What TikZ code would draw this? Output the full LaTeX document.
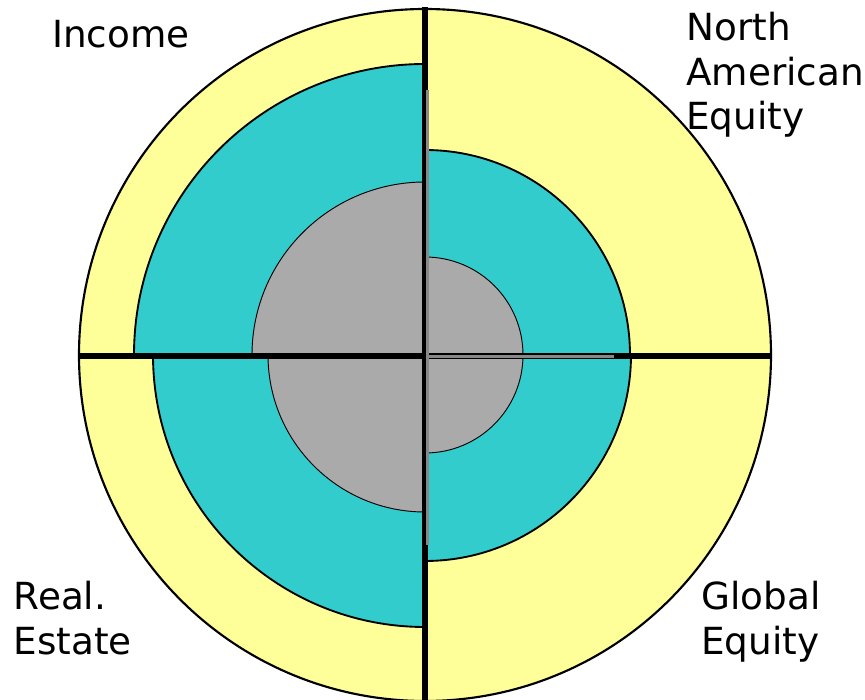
\documentclass[tikz,border=0pt]{standalone}
\usepackage{fontspec}
\setmainfont{DejaVu Sans}
\begin{document}
\begin{tikzpicture}[x=0.75pt,y=0.75pt,
  outer/.style={fill=yellowfill,draw=black,line width=1.6pt},
  middle/.style={fill=tealfill,draw=black,line width=1.4pt},
  inner/.style={fill=grayfill,draw=black,line width=0.7pt},
  axis/.style={draw=black,line width=3.8pt},
  seam/.style={fill=seamgray},
  lbl/.style={anchor=base west,inner sep=0pt,font=\fontsize{28}{28}\selectfont}]
\definecolor{yellowfill}{HTML}{FFFF99}
\definecolor{tealfill}{HTML}{33CCCC}
\definecolor{grayfill}{HTML}{AAAAAA}
\definecolor{seamgray}{HTML}{888888}
\useasboundingbox (0,0) rectangle (865,700);
\coordinate (c) at (425,345);

% outer ring
\draw[outer] (c) circle[radius=346];

% middle (teal) quarter sectors
\draw[middle] (c) -- ++(0:205) arc[start angle=0,end angle=90,radius=205] -- cycle;
\draw[middle] (c) -- ++(90:291) arc[start angle=90,end angle=180,radius=291] -- cycle;
\draw[middle] (c) -- ++(180:272) arc[start angle=180,end angle=270,radius=272] -- cycle;
\draw[middle] (c) -- ++(270:206) arc[start angle=270,end angle=360,radius=206] -- cycle;

% inner (gray) quarter sectors
\draw[inner] (c) -- ++(0:98) arc[start angle=0,end angle=90,radius=98] -- cycle;
\draw[inner] (c) -- ++(90:173) arc[start angle=90,end angle=180,radius=173] -- cycle;
\draw[inner] (c) -- ++(180:157) arc[start angle=180,end angle=270,radius=157] -- cycle;
\draw[inner] (c) -- ++(270:98) arc[start angle=270,end angle=360,radius=98] -- cycle;

% axes
\coordinate (vt) at (425,693);
\coordinate (vb) at (425,0);
\coordinate (hl) at (78,344);
\coordinate (hr) at (772,344);
\draw[axis] (vt) -- (vb);
\draw[axis] (hl) -- (hr);

% gray seams along the axes
\fill[seam] (425.8,610) rectangle (428.6,155);
\fill[seam] (428,344.6) rectangle (614,341.6);

% labels
\node[lbl] (income) at (52,652) {Income};
\node[lbl] (na1) at (686,659) {North};
\node[lbl] (na2) at (686,614) {American};
\node[lbl] (na3) at (686,570) {Equity};
\node[lbl] (re1) at (13.5,90) {Real.};
\node[lbl] (re2) at (13.5,45) {Estate};
\node[lbl] (ge1) at (701,90) {Global};
\node[lbl] (ge2) at (701,45) {Equity};
\end{tikzpicture}
\end{document}
